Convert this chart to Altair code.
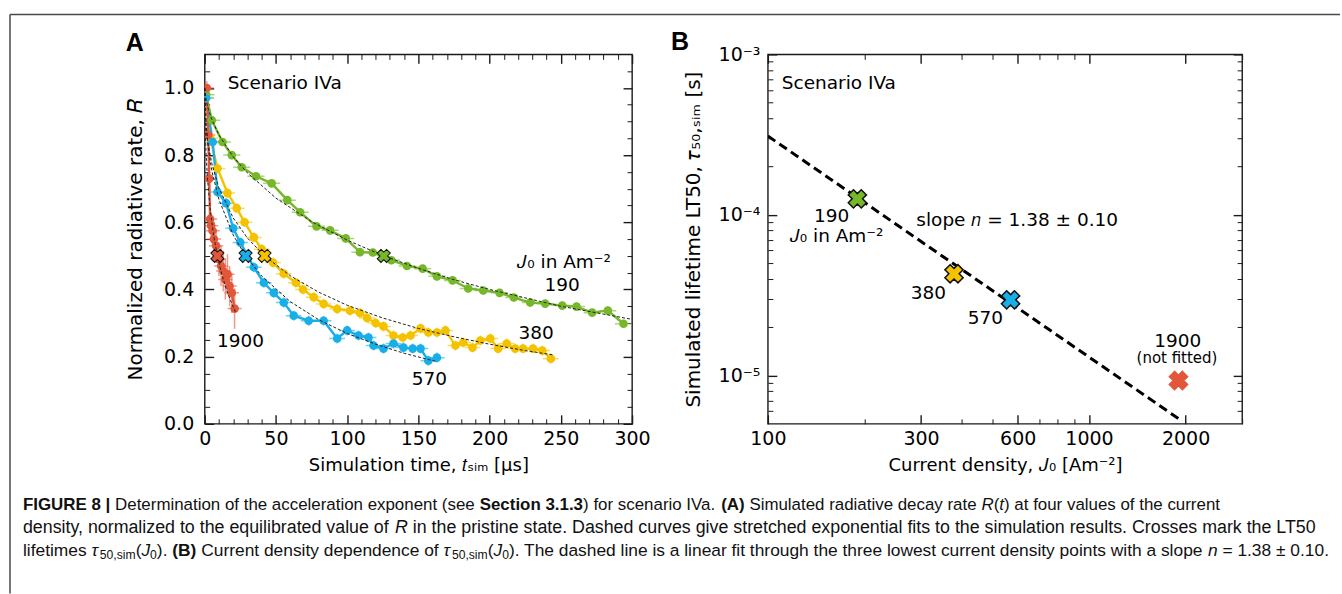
import altair as alt
import pandas as pd

# ---------------- Panel A data: normalized radiative rate R(t) ----------------
series = ["190", "380", "570", "1900"]
colors = ["#76b82a", "#f5c200", "#18aee8", "#e2573a"]

t_190 = [1, 5, 12.5, 19, 26, 36, 47, 58, 67, 78.5, 88, 99, 109, 118, 131, 142, 153, 163, 174, 185,
         195.5, 207, 217, 228.5, 239, 251, 261, 272, 283, 294]
R_190 = [0.98, 0.904, 0.839, 0.80, 0.764, 0.737, 0.716, 0.666, 0.63, 0.588, 0.576, 0.552, 0.511, 0.51,
         0.487, 0.47, 0.462, 0.439, 0.427, 0.403, 0.397, 0.39, 0.376, 0.361, 0.358, 0.352, 0.349, 0.331,
         0.337, 0.298]
t_380 = [1, 4, 9, 16, 22.5, 28, 34.5, 40, 48, 55.5, 64, 69, 76.5, 83.5, 93, 102, 109, 114, 120, 125.5,
         132.5, 139, 144.5, 151.5, 157, 163, 169, 176, 181.5, 188, 193.5, 200.5, 206, 212, 218, 223.5,
         230.5, 237, 243]
R_380 = [0.97, 0.85, 0.76, 0.687, 0.642, 0.60, 0.555, 0.52, 0.48, 0.447, 0.42, 0.40, 0.377, 0.357, 0.342,
         0.337, 0.33, 0.315, 0.30, 0.29, 0.263, 0.257, 0.263, 0.284, 0.272, 0.272, 0.278, 0.233, 0.242,
         0.227, 0.248, 0.254, 0.224, 0.239, 0.224, 0.224, 0.224, 0.218, 0.194]
t_570 = [1, 5.6, 9, 15, 20, 25, 34.5, 41.5, 48.5, 55.5, 62.5, 73, 83.5, 93, 100, 108, 115, 118.5, 125.5,
         132.5, 139.5, 146, 151.5, 157, 163]
R_570 = [0.97, 0.839, 0.69, 0.657, 0.582, 0.54, 0.466, 0.42, 0.39, 0.361, 0.322, 0.307, 0.307, 0.254,
         0.278, 0.263, 0.257, 0.233, 0.224, 0.239, 0.227, 0.224, 0.224, 0.188, 0.197]
t_1900 = [1.5, 2.5, 3.2, 3.8, 4.5, 5.5, 6.5, 8, 10, 11.5, 13, 14.5, 16, 17.5, 19, 21]
R_1900 = [1.0, 0.86, 0.73, 0.61, 0.59, 0.575, 0.55, 0.53, 0.49, 0.47, 0.455, 0.43, 0.445, 0.41, 0.39, 0.343]

# error bar half-widths
xerr_190, yerr_190 = 6.0, 0.012
xerr_380, yerr_380 = 5.5, 0.015
xerr_570, yerr_570 = 5.5, 0.015
xerr_1900 = 5.0
yerr_1900 = [0.02, 0.03, 0.03, 0.04, 0.04, 0.04, 0.05, 0.05, 0.05, 0.06, 0.06, 0.06, 0.06, 0.06, 0.06, 0.06]

# dashed stretched-exponential fit curves
fit_t_190 = [0, 1, 2.5, 5, 10, 20, 30, 50, 75, 100, 125.7, 150, 175, 200, 250, 300]
fit_R_190 = [1.0, 0.963, 0.937, 0.906, 0.860, 0.795, 0.747, 0.672, 0.602, 0.547, 0.50, 0.463, 0.429, 0.40, 0.35, 0.311]
fit_t_380 = [0, 1, 2.5, 5, 10, 20, 30, 42, 60, 80, 100, 125, 150, 175, 200, 225, 245]
fit_R_380 = [1.0, 0.887, 0.831, 0.775, 0.702, 0.613, 0.553, 0.50, 0.441, 0.392, 0.353, 0.315, 0.284, 0.259, 0.237, 0.218, 0.205]
fit_t_570 = [0, 1, 2.5, 5, 10, 20, 28.7, 40, 60, 80, 100, 120, 140, 163]
fit_R_570 = [1.0, 0.883, 0.820, 0.753, 0.668, 0.562, 0.50, 0.44, 0.364, 0.31, 0.269, 0.237, 0.21, 0.185]
fit_t_1900 = [0, 0.5, 1, 2, 4, 6, 8.9, 12, 15, 18, 21.7]
fit_R_1900 = [1.0, 0.857, 0.801, 0.727, 0.633, 0.569, 0.50, 0.445, 0.403, 0.368, 0.332]

# LT50 crosses
lt50_t = [125.7, 42.0, 28.7, 8.9]
lt50_R = [0.5, 0.5, 0.5, 0.5]

# ---------------- Panel B data: LT50 vs current density ----------------
J0 = [190, 380, 570, 1900]
tau50 = [1.26e-4, 4.3e-5, 2.96e-5, 9.3e-6]
fit_J = [100, 1950]
fit_tau = [3.1e-4, 5.2e-6]

# tick values
A_x_major = [0, 50, 100, 150, 200, 250, 300]
A_x_minor = [10, 20, 30, 40, 60, 70, 80, 90, 110, 120, 130, 140, 160, 170, 180, 190,
             210, 220, 230, 240, 260, 270, 280, 290]
A_y_major = [0.0, 0.2, 0.4, 0.6, 0.8, 1.0]
A_y_minor = [0.05, 0.1, 0.15, 0.25, 0.3, 0.35, 0.45, 0.5, 0.55, 0.65, 0.7, 0.75, 0.85, 0.9, 0.95, 1.05]
B_x_major = [100, 300, 600, 1000, 2000]
B_x_minor = [200, 400, 500, 700, 800, 900, 3000]
B_y_major = [1e-5, 1e-4, 1e-3]
B_y_minor = [6e-6, 7e-6, 8e-6, 9e-6, 2e-5, 3e-5, 4e-5, 5e-5, 6e-5, 7e-5, 8e-5, 9e-5,
             2e-4, 3e-4, 4e-4, 5e-4, 6e-4, 7e-4, 8e-4, 9e-4]

# caption text, as runs of (text, style)
caption_line1 = [("FIGURE 8 |", "bold"), (" Determination of the acceleration exponent (see ", "normal"),
                 ("Section 3.1.3", "bold"), (") for scenario IVa. ", "normal"), ("(A)", "bold"),
                 (" Simulated radiative decay rate ", "normal"), ("R", "italic"), ("(", "normal"),
                 ("t", "italic"), (")", "normal"), (" at four values of the current", "normal")]
caption_line2 = [("density, normalized to the equilibrated value of ", "normal"), ("R", "italic"),
                 (" in the pristine state. Dashed curves give stretched exponential fits to the "
                  "simulation results. Crosses mark the LT50", "normal")]
caption_line3 = [("lifetimes ", "normal"), ("τ", "italic"), ("50,sim", "sub"), ("(", "normal"),
                 ("J", "italic"), ("0", "sub"), ("). ", "normal"), ("(B)", "bold"),
                 (" Current density dependence of ", "normal"), ("τ", "italic"), ("50,sim", "sub"),
                 ("(", "normal"), ("J", "italic"), ("0", "sub"),
                 ("). The dashed line is a linear fit through the three lowest current density points "
                  "with a slope ", "normal"), ("n", "italic"), (" = 1.38 ± 0.10.", "normal")]

# ---------------- build tables ----------------
rows = []
for name, ts, Rs, xe, ye in [("190", t_190, R_190, xerr_190, yerr_190),
                             ("380", t_380, R_380, xerr_380, yerr_380),
                             ("570", t_570, R_570, xerr_570, yerr_570),
                             ("1900", t_1900, R_1900, xerr_1900, yerr_1900)]:
    yes = ye if isinstance(ye, list) else [ye] * len(ts)
    for t, r, e in zip(ts, Rs, yes):
        rows.append(dict(J=name, t=t, R=r, xlo=t - xe, xhi=t + xe, ylo=r - e, yhi=r + e))
dfA = pd.DataFrame(rows)

fit_rows = []
for name, ts, Rs in [("190", fit_t_190, fit_R_190), ("380", fit_t_380, fit_R_380),
                     ("570", fit_t_570, fit_R_570), ("1900", fit_t_1900, fit_R_1900)]:
    for t, r in zip(ts, Rs):
        fit_rows.append(dict(J=name, t=t, R=r))
dfFitA = pd.DataFrame(fit_rows)
dfCrossA = pd.DataFrame(dict(J=series, t=lt50_t, R=lt50_R))

dfB = pd.DataFrame(dict(J=series, Jv=J0, tau=tau50))
dfFitB = pd.DataFrame(dict(Jv=fit_J, tau=fit_tau))

annA_center = pd.DataFrame(dict(text=["190", "380", "570", "1900"],
                                t=[250.9, 232.7, 157.7, 25.2], R=[0.412, 0.2716, 0.1343, 0.2478]))
annA_left = pd.DataFrame(dict(text=["Scenario IVa", "𝐽₀ in Am⁻²"], t=[16.1, 219.4], R=[1.015, 0.4806]))
annB_center = pd.DataFrame(dict(text=["190", "380", "570", "1900"],
                                Jv=[158.1, 316.2, 475.4, 1890], tau=[9.86e-5, 3.28e-5, 2.29e-5, 1.65e-5]))
annB_small = pd.DataFrame(dict(text=["(not fitted)"], Jv=[1880], tau=[1.294e-5]))
annB_left = pd.DataFrame(dict(text=["Scenario IVa", "𝐽₀ in Am⁻²", "slope 𝑛 = 1.38 ± 0.10"],
                              Jv=[110.5, 117.0, 290.0], tau=[6.6e-4, 7.41e-5, 9.31e-5]))

# ---------------- styling helpers ----------------
FONT = "DejaVu Sans"
CAP_FONT = "Liberation Sans"
AXC = "#1a1a1a"
A_X0, A_Y0 = 204, 53     # page position of panel A plot origin
B_X0, B_Y0 = 768, 53
TICK_FS = 19
TITLE_X_FS = 18
TITLE_Y_FS = 20
ANN_FS = 18.5


def mk_axis(values, orient, major=True, labels=False, title=None, fmt=None, expr=None,
            pad=16, title_pad=10, title_fs=18):
    size = 9 if major else 5
    kw = dict(values=values, orient=orient, tickSize={"expr": str(-size)},
              tickWidth=1.4 if major else 1.0, tickColor=AXC, domain=False, grid=False,
              labels=labels, title=title, labelFlush=False, labelOverlap=False)
    if labels:
        kw.update(labelFont=FONT, labelFontSize=TICK_FS, labelColor="black", labelPadding=pad,
                  labelAngle=0)
        if fmt:
            kw["format"] = fmt
        if expr:
            kw["labelExpr"] = expr
    if title is not None:
        kw.update(titleFont=FONT, titleFontSize=title_fs, titleFontWeight="normal",
                  titleColor="black", titlePadding=title_pad)
    return alt.Axis(**kw)


one = pd.DataFrame({"k": [0]})


def page_text(px, py, text, size, x0, y0, weight="normal", style="normal", font=CAP_FONT,
              align="left", color="#111111"):
    return alt.Chart(one).mark_text(text=text, font=font, fontSize=size, fontWeight=weight,
                                    fontStyle=style, align=align, baseline="middle",
                                    color=color).encode(x=alt.value(px - x0), y=alt.value(py - y0))


# Arial / Liberation Sans advance widths (per 1000 em) used to lay out the caption runs
W_REG = {" ": 278, "(": 333, ")": 333, ",": 278, ".": 278, "|": 260, "=": 584, "±": 549, "τ": 480,
         "A": 667, "B": 667, "C": 722, "D": 722, "E": 667, "F": 611, "G": 778, "I": 278, "J": 500,
         "L": 556, "R": 722, "S": 667, "T": 611, "U": 722, "V": 667,
         "a": 556, "b": 556, "c": 500, "d": 556, "e": 556, "f": 278, "g": 556, "h": 556, "i": 222,
         "k": 500, "l": 222, "m": 833, "n": 556, "o": 556, "p": 556, "q": 556, "r": 333, "s": 500,
         "t": 278, "u": 556, "v": 500, "w": 722, "x": 500, "y": 500, "z": 500}
W_BOLD = {" ": 278, "(": 333, ")": 333, ".": 278, "|": 280, "A": 722, "B": 722, "E": 667, "F": 611,
          "G": 778, "I": 278, "R": 722, "S": 667, "U": 722, "c": 556, "e": 556, "i": 278, "n": 611,
          "o": 611, "t": 333}


def run_units(text, style):
    table = W_BOLD if style == "bold" else W_REG
    scale = 0.7 if style == "sub" else 1.0
    return sum(table.get(ch, 556) for ch in text) * scale / 1000.0


def caption_marks(runs, x_start, x_end, y):
    total = sum(run_units(t, s) for t, s in runs)
    f = (x_end - x_start) / total
    x = x_start
    out = []
    for text, style in runs:
        lead = len(text) - len(text.lstrip(" "))
        body = text.strip(" ")
        xs = x + run_units(" " * lead, style) * f
        if body:
            size = f * (0.7 if style == "sub" else 1.0)
            dy = 0.28 * f if style == "sub" else 0.0
            out.append(page_text(xs, y + dy, body, size, A_X0, A_Y0,
                                 weight="bold" if style == "bold" else "normal",
                                 style="italic" if style == "italic" else "normal"))
        x += run_units(text, style) * f
    return out


col_scale = alt.Scale(domain=series, range=colors)

# ---------------- Panel A ----------------
xA = alt.Scale(domain=[0, 300], nice=False, zero=False)
yA = alt.Scale(domain=[0, 1.1], nice=False, zero=False)

errx = alt.Chart(dfA).mark_rule(strokeWidth=1.5, opacity=0.6, clip=True).encode(
    x=alt.X("xlo:Q", scale=xA, axis=mk_axis(A_x_major, "bottom", True, True,
                                           "Simulation time, 𝑡ₛᵢₘ [μs]", pad=15, title_pad=8,
                                           title_fs=TITLE_X_FS)),
    x2="xhi:Q",
    y=alt.Y("R:Q", scale=yA, axis=mk_axis(A_y_major, "left", True, True,
                                         "Normalized radiative rate, 𝑅", fmt=".1f", pad=20,
                                         title_pad=18, title_fs=TITLE_Y_FS)),
    color=alt.Color("J:N", scale=col_scale, legend=None))
erry = alt.Chart(dfA).mark_rule(strokeWidth=1.5, opacity=0.6, clip=True).encode(
    x=alt.X("t:Q", scale=xA, axis=mk_axis(A_x_minor, "bottom", False)),
    y=alt.Y("ylo:Q", scale=yA, axis=mk_axis(A_y_minor, "left", False)),
    y2="yhi:Q",
    color=alt.Color("J:N", scale=col_scale, legend=None))
linesA = alt.Chart(dfA).mark_line(strokeWidth=2.4, clip=True).encode(
    x=alt.X("t:Q", scale=xA, axis=mk_axis(A_x_major, "top", True)),
    y=alt.Y("R:Q", scale=yA, axis=mk_axis(A_y_major, "right", True)),
    color=alt.Color("J:N", scale=col_scale, legend=None))
pointsA = alt.Chart(dfA).mark_circle(size=75, opacity=1, clip=True).encode(
    x=alt.X("t:Q", scale=xA, axis=mk_axis(A_x_minor, "top", False)),
    y=alt.Y("R:Q", scale=yA, axis=mk_axis(A_y_minor, "right", False)),
    color=alt.Color("J:N", scale=col_scale, legend=None))
fitsA = alt.Chart(dfFitA).mark_line(strokeWidth=1, strokeDash=[3, 2], color="#222222").encode(
    x=alt.X("t:Q", scale=xA, axis=None),
    y=alt.Y("R:Q", scale=yA, axis=None),
    detail="J:N")
crossA = alt.Chart(dfCrossA).mark_point(shape="cross", angle=45, size=175, filled=True, opacity=1,
                                        stroke="#111111", strokeWidth=1).encode(
    x=alt.X("t:Q", scale=xA, axis=None),
    y=alt.Y("R:Q", scale=yA, axis=None),
    fill=alt.Fill("J:N", scale=col_scale, legend=None))
annA_c = alt.Chart(annA_center).mark_text(font=FONT, fontSize=ANN_FS, align="center",
                                          baseline="middle", color="black").encode(
    x=alt.X("t:Q", scale=xA, axis=None), y=alt.Y("R:Q", scale=yA, axis=None), text="text:N")
annA_l = alt.Chart(annA_left).mark_text(font=FONT, fontSize=ANN_FS, align="left", baseline="middle",
                                        color="black").encode(
    x=alt.X("t:Q", scale=xA, axis=None), y=alt.Y("R:Q", scale=yA, axis=None), text="text:N")

# page decorations (frame, panel letter, caption) positioned in page pixels
frame_v = alt.Chart(one).mark_rule(color="#4a4a4a", strokeWidth=1.5).encode(
    x=alt.value(9 - A_X0), y=alt.value(13 - A_Y0), y2=alt.value(593 - A_Y0))
frame_h = alt.Chart(one).mark_rule(color="#4a4a4a", strokeWidth=1.5).encode(
    x=alt.value(9 - A_X0), x2=alt.value(1341 - A_X0), y=alt.value(13 - A_Y0))
letterA = page_text(134, 42, "A", 25, A_X0, A_Y0, weight="bold", align="center", color="black")

cap_layers = (caption_marks(caption_line1, 22, 1221, 504)
              + caption_marks(caption_line2, 22, 1318, 527)
              + caption_marks(caption_line3, 22, 1330, 550))

panelA = alt.layer(errx, erry, linesA, pointsA, fitsA, crossA, annA_c, annA_l,
                   frame_v, frame_h, letterA, *cap_layers).resolve_axis(
    x="independent", y="independent").properties(width=428, height=370)

# ---------------- Panel B ----------------
xB = alt.Scale(type="log", domain=[100, 3000], nice=False)
yB = alt.Scale(type="log", domain=[5e-6, 1e-3], nice=False)
yexpr = "datum.value > 5e-4 ? '10⁻³' : (datum.value > 5e-5 ? '10⁻⁴' : '10⁻⁵')"

fitB = alt.Chart(dfFitB).mark_line(strokeWidth=3, strokeDash=[9, 5], color="black", clip=True).encode(
    x=alt.X("Jv:Q", scale=xB, axis=mk_axis(B_x_major, "bottom", True, True,
                                          "Current density, 𝐽₀ [Am⁻²]", fmt="d", pad=15,
                                          title_pad=8, title_fs=TITLE_X_FS)),
    y=alt.Y("tau:Q", scale=yB, axis=mk_axis(B_y_major, "left", True, True,
                                           "Simulated lifetime LT50, 𝜏₅₀,ₛᵢₘ [s]", expr=yexpr,
                                           pad=17, title_pad=15, title_fs=TITLE_Y_FS)))
crossB = alt.Chart(dfB).mark_point(shape="cross", angle=45, size=340, filled=True, opacity=1,
                                   strokeWidth=1.5).encode(
    x=alt.X("Jv:Q", scale=xB, axis=mk_axis(B_x_minor, "bottom", False)),
    y=alt.Y("tau:Q", scale=yB, axis=mk_axis(B_y_minor, "left", False)),
    fill=alt.Fill("J:N", scale=col_scale, legend=None),
    stroke=alt.Stroke("J:N", scale=alt.Scale(domain=series,
                                             range=["#111111", "#111111", "#111111", colors[3]]),
                      legend=None))
annB_c = alt.Chart(annB_center).mark_text(font=FONT, fontSize=ANN_FS, align="center",
                                          baseline="middle", color="black").encode(
    x=alt.X("Jv:Q", scale=xB, axis=mk_axis(B_x_major, "top", True)),
    y=alt.Y("tau:Q", scale=yB, axis=mk_axis(B_y_major, "right", True)),
    text="text:N")
annB_l = alt.Chart(annB_left).mark_text(font=FONT, fontSize=ANN_FS, align="left", baseline="middle",
                                        color="black").encode(
    x=alt.X("Jv:Q", scale=xB, axis=mk_axis(B_x_minor, "top", False)),
    y=alt.Y("tau:Q", scale=yB, axis=mk_axis(B_y_minor, "right", False)),
    text="text:N")
annB_s = alt.Chart(annB_small).mark_text(font=FONT, fontSize=15, align="center", baseline="middle",
                                         color="black").encode(
    x=alt.X("Jv:Q", scale=xB, axis=None), y=alt.Y("tau:Q", scale=yB, axis=None), text="text:N")
letterB = page_text(680, 41, "B", 25, B_X0, B_Y0, weight="bold", align="center", color="black")

panelB = alt.layer(fitB, crossB, annB_c, annB_l, annB_s, letterB).resolve_axis(
    x="independent", y="independent").properties(width=475, height=370)

chart = alt.hconcat(panelA, panelB, spacing=136, bounds="flush").properties(
    padding={"left": 8, "top": 12, "right": 0, "bottom": 0},
    background="white",
).configure_view(stroke=AXC, strokeWidth=1.4)

chart.save("out.html", embed_options={"renderer": "svg", "actions": False})
